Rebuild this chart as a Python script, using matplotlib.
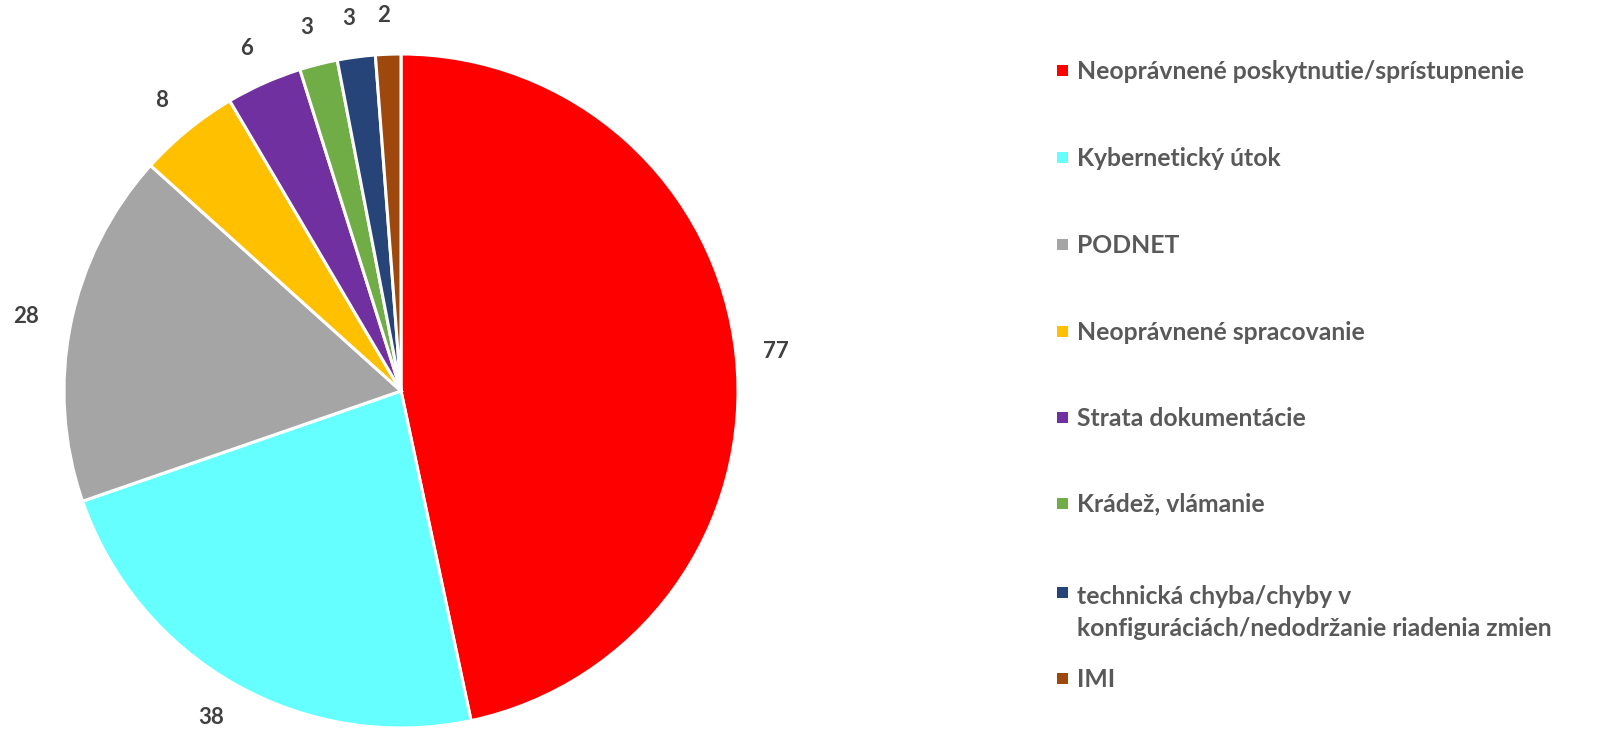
import matplotlib
matplotlib.use("Agg")
import numpy as np
import matplotlib.pyplot as plt
from matplotlib.patches import Rectangle

categories = [
    "Neoprávnené poskytnutie/sprístupnenie",
    "Kybernetický útok",
    "PODNET",
    "Neoprávnené spracovanie",
    "Strata dokumentácie",
    "Krádež, vlámanie",
    "technická chyba/chyby v\nkonfiguráciách/nedodržanie riadenia zmien",
    "IMI",
]
values = [77, 38, 28, 8, 6, 3, 3, 2]
colors = ["#FF0000", "#66FFFF", "#A5A5A5", "#FFC000", "#7030A0", "#70AD47", "#264478", "#9E480E"]

W, H = 1614, 733
plt.rcParams['font.family'] = ['Lato', 'DejaVu Sans']
fig = plt.figure(figsize=(W / 100, H / 100), dpi=100)

cx, cy, r = 401, 391, 337
ax = fig.add_axes([(cx - r) / W, (H - cy - r) / H, 2 * r / W, 2 * r / H])
wedges, _ = ax.pie(
    values, colors=colors,
    startangle=90, counterclock=False,
    wedgeprops=dict(edgecolor="white", linewidth=2.2),
)
for w, v in zip(wedges, values):
    ang = np.deg2rad((w.theta1 + w.theta2) / 2)
    c, s = np.cos(ang), np.sin(ang)
    hw = len(str(v)) * 4.6
    hh = 5.8
    ax.annotate(str(v), xy=(1.09 * c, 1.09 * s), xytext=(c * hw - 2, s * hh),
                textcoords="offset points", ha="center", va="center",
                fontsize=16, fontweight="bold", color="#404040", annotation_clip=False)
ax.set_xlim(-1, 1)
ax.set_ylim(-1, 1)
ax.set_aspect("equal")
ax.axis("off")

# legend
row_y = [70, 157, 244, 331, 417, 503, 592, 678]
for cat, col, y in zip(categories, colors, row_y):
    fig.patches.append(Rectangle((1057 / W, (H - y - 5.5) / H), 11 / W, 11 / H,
                                 transform=fig.transFigure, facecolor=col, edgecolor="none"))
    nlines = cat.count("\n")
    fig.text(1077 / W, (H - y - 8.8 - 35 * nlines) / H, cat, ha="left", va="baseline",
             fontsize=17.8, fontweight="bold", color="#595959", linespacing=1.45)

fig.savefig("out.png", dpi=100, facecolor="white")
